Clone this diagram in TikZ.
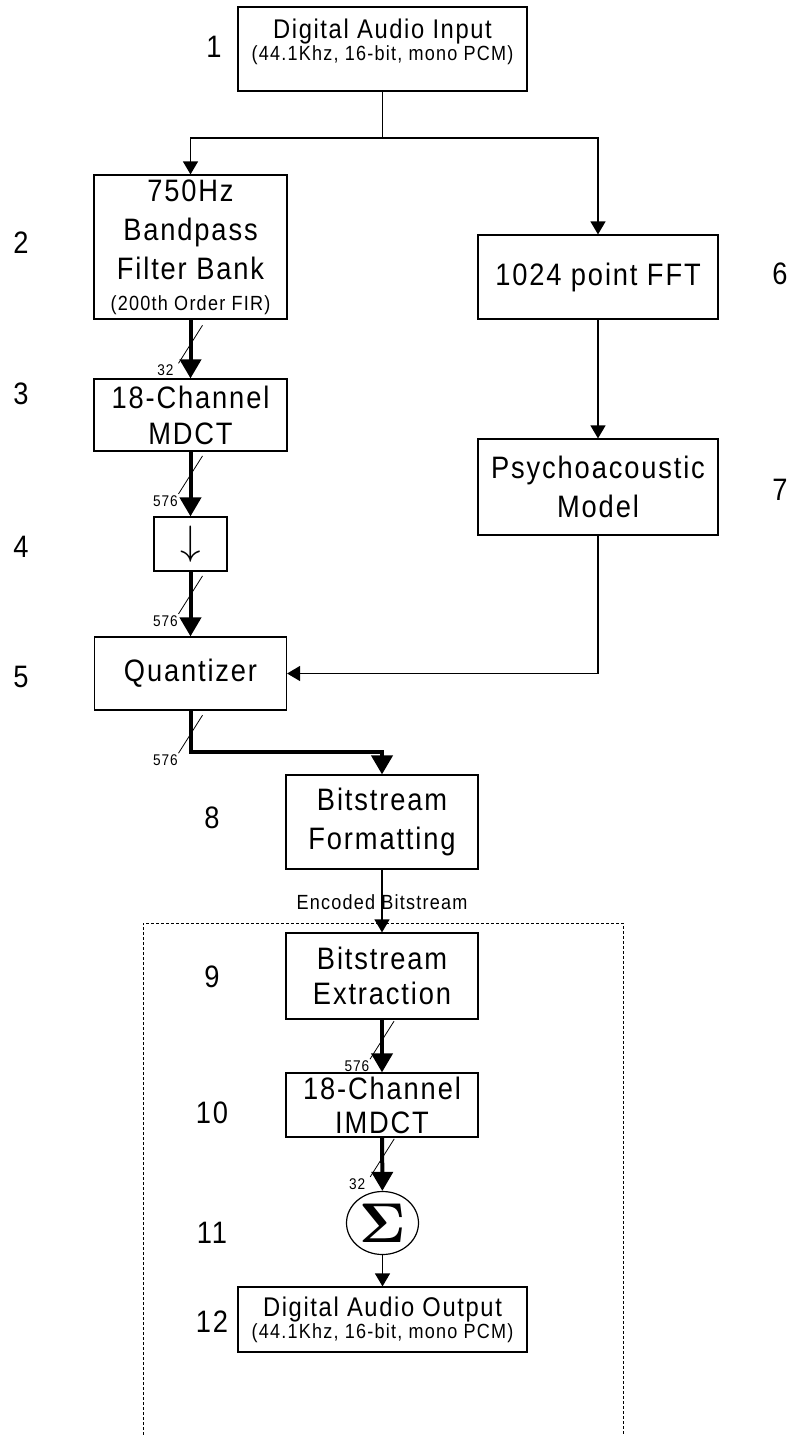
\documentclass[tikz,border=0pt]{standalone}
\usepackage{amsmath}
\usepackage{fontspec}
\setmainfont{Liberation Sans}[LetterSpace=6, FakeStretch=0.88]
\usetikzlibrary{arrows.meta,shapes.geometric}

\newcommand{\bigtxt}{\fontsize{31}{39}\selectfont}
\newcommand{\midtxt}{\fontsize{27}{22}\selectfont}
\newcommand{\subtxt}{\fontsize{20.5}{22}\selectfont}
\newcommand{\symtxt}{\fontsize{10}{10}\selectfont}

% slash on a bus line, with its width label
\newcommand{\busmark}[2]{%
  \draw[tick] ([shift={(-12,19)}]#1) -- ([shift={(12,-19)}]#1);
  \node[cnt] (#1l) at ([shift={(-25,26)}]#1) {#2};}

\begin{document}
\begin{tikzpicture}[x=1pt, y=-1pt,
    blk/.style={draw, line width=1.2pt, align=center, inner sep=0pt, font=\bigtxt},
    flow/.style={-{Triangle[width=15pt,length=13pt]}, line width=1.3pt},
    bus/.style={-{Triangle[width=21pt,length=19pt]}, line width=4pt},
    tick/.style={line width=0.8pt},
    cnt/.style={font=\fontsize{15.5}{16}\selectfont},
    idx/.style={font=\fontsize{31}{32}\selectfont}]
  \useasboundingbox (0,0) rectangle (797,1435);

  % encoder
  \node[blk, font=\midtxt, minimum width=289, minimum height=84, text depth=18pt] (in) at (382.5,49)
    {Digital Audio Input\\{\subtxt(44.1Khz, 16-bit, mono PCM)}};
  \node[blk, minimum width=193, minimum height=144] (bpf) at (190.5,247)
    {750Hz\\Bandpass\\Filter Bank\\[-8pt]{\subtxt(200th Order FIR)}};
  \node[blk, minimum width=193, minimum height=72] (mdct) at (190.5,415) {18-Channel\\[-3pt]MDCT};
  \node[blk, font=\symtxt, minimum width=73, minimum height=54] (dec) at (190.5,544)
    {\scalebox{4.1}{$\downarrow$}};
  \node[blk, minimum width=192, minimum height=73] (quant) at (190.5,673.5) {Quantizer};
  \node[blk, minimum width=240, minimum height=84] (fft) at (598,277) {1024 point FFT};
  \node[blk, minimum width=240, minimum height=96] (psy) at (598,487) {Psychoacoustic\\Model};
  \node[blk, minimum width=192, minimum height=94] (fmt) at (382,822) {Bitstream\\Formatting};

  % decoder
  \node[blk, minimum width=192, minimum height=86] (ext) at (382,976) {Bitstream\\[-4pt]Extraction};
  \node[blk, minimum width=192, minimum height=64] (imdct) at (382,1105) {18-Channel\\[-5pt]IMDCT};
  \node[blk, ellipse, font=\symtxt, minimum width=72, minimum height=63, inner sep=0pt] (sum) at (382.5,1223)
    {\scalebox{5.6}{$\boldsymbol{\Sigma}$}};
  \node[blk, font=\midtxt, minimum width=289, minimum height=65] (out) at (382.5,1319.5)
    {Digital Audio Output\\{\subtxt(44.1Khz, 16-bit, mono PCM)}};

  \draw[dashed, line width=0.9pt, dash pattern=on 3pt off 2pt] (143,1435) |- (623,923) -- (623,1435);

  \foreach \n/\x/\y in {1/214/47, 2/21/243, 3/21/394, 4/21/547, 5/21/677, 6/780/274, 7/780/490,
      8/212/818, 9/212/977, 10/212/1113, 11/212/1233, 12/212/1322}
    \node[idx] (n\n) at (\x,\y) {\n};

  \coordinate (split) at (382.5,138);
  \coordinate (qbend) at (190.5,752);
  \draw[flow] (in.south) -- (split) -| (bpf.north);
  \draw[flow] (split) -| (fft.north);
  \draw[bus] (bpf) -- coordinate[pos=0.42] (t1) (mdct);
  \busmark{t1}{32}
  \draw[bus] (mdct) -- coordinate[pos=0.36] (t2) (dec);
  \busmark{t2}{576}
  \draw[bus] (dec) -- coordinate[pos=0.36] (t3) (quant);
  \busmark{t3}{576}
  \draw[bus] (quant.south) -- coordinate[pos=0.57] (t4) (qbend) -| (fmt.north);
  \busmark{t4}{576}
  \draw[flow] (fft) -- (psy);
  \draw[flow] (psy.south) |- (quant.east);
  \draw[flow] (fmt) -- node[pos=0.52, font=\subtxt] (enc) {Encoded Bitstream} (ext);
  \draw[bus] (ext) -- coordinate[pos=0.39] (t5) (imdct);
  \busmark{t5}{576}
  \draw[bus] (imdct) -- coordinate[pos=0.38] (t6) (sum);
  \busmark{t6}{32}
  \draw[flow] (sum) -- (out);
\end{tikzpicture}
\end{document}
